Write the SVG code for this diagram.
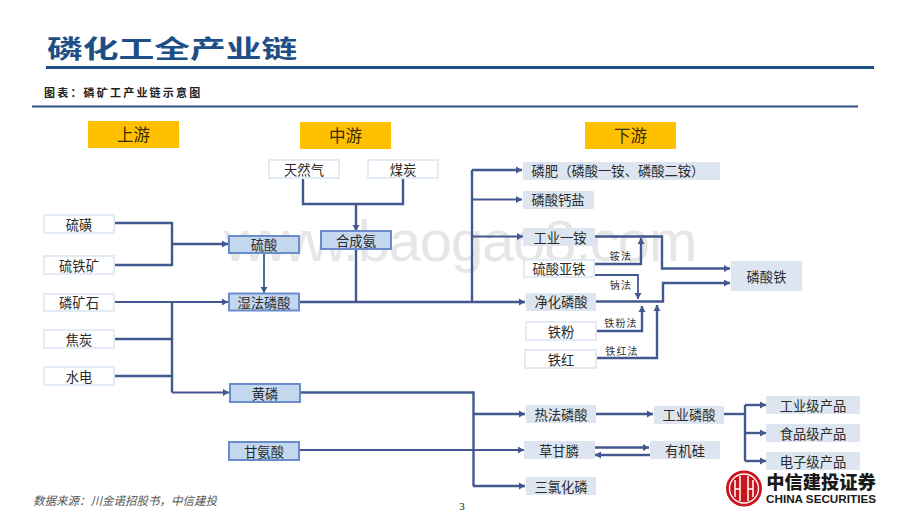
<svg xmlns="http://www.w3.org/2000/svg" width="920" height="518" viewBox="0 0 920 518">
<style>
text{font-family:"Noto Sans CJK SC","Liberation Sans",sans-serif;text-anchor:middle}
.t{font-size:13.3px;fill:#2b2b2b}
.h{font-size:16.5px;fill:#3a2c00}
.w rect{fill:#fff;stroke:#e3ebf5;stroke-width:2}
.b rect{fill:#c3d7ef;stroke:#6a8ccb;stroke-width:2}
.g rect{fill:#dde6f0}
.y rect{fill:#ffc000}
.m{font-size:10px;fill:#333;letter-spacing:1.200px}
#connectors path{fill:none;stroke:#41598f;stroke-width:2.400}
#connectors path.a{marker-end:url(#arr)}
#connectors path.n{stroke-width:1.800}
</style>
<defs>
<marker id="arr" markerUnits="userSpaceOnUse" markerWidth="8" markerHeight="8" refX="6" refY="4" orient="auto"><path d="M0 0.500L6 4L0 7.500Z" fill="#41598f"/></marker>
</defs>
<rect width="920" height="518" fill="#fff"/>
<text id="watermark" x="460" y="261" style="font-family:'Liberation Sans',sans-serif;font-size:58px;fill:#e6e6e6;letter-spacing:-1.200px">www.baogao8.com</text>
<g id="header">
<text transform="translate(47 58) scale(1.46 1)" style="text-anchor:start;font-size:24.500px;font-weight:700;fill:#1d4f86">磷化工全产业链</text>
<rect x="46" y="66" width="828" height="3" fill="#1f4e85"/>
<text x="44" y="97" style="text-anchor:start;font-size:11px;font-weight:700;fill:#222;letter-spacing:2.200px">图表：磷矿工产业链示意图</text>
<rect x="32" y="105.500" width="826" height="2" fill="#2c4d80"/>
</g>
<g id="connectors">
<path d="M114 223H172V265H114"/>
<path class="a" d="M172 244H228"/>
<path class="a n" d="M114 302H228"/>
<path d="M172 302V392.500"/>
<path d="M114 339H172M114 376H172"/>
<path class="a n" d="M172 392.500H229"/>
<path class="a n" d="M264 253V293"/>
<path d="M303 179V204H403V179"/>
<path class="a" d="M356 204V231"/>
<path d="M356 249V302"/>
<path class="a" d="M299 302H525"/>
<path d="M472 302V170"/>
<path class="a" d="M472 170H522"/>
<path class="a n" d="M472 199.500H522"/>
<path class="a n" d="M472 236.500H523"/>
<path d="M300 392.500H473.500V486"/>
<path class="a" d="M473 414H525"/>
<path class="a n" d="M299 450H524"/>
<path class="a" d="M473 486H525"/>
<path class="a" d="M596 414H653"/>
<path d="M724 414H745"/>
<path d="M745 405V461"/>
<path class="a" d="M745 405H766"/>
<path class="a" d="M745 433H766"/>
<path class="a" d="M745 461H766"/>
<path class="a" d="M595 447.500H649"/>
<path class="a" d="M650 455H595"/>
<path class="a" d="M595 236.500H662V268.500H730"/>
<path class="a" d="M595 264H641V238"/>
<path class="a n" d="M595 275H638V299"/>
<path class="a" d="M596 301.500H663V283H730"/>
<path class="a" d="M596 331H642V306"/>
<path class="a" d="M596 358H657V305"/>
</g>
<g id="n-up" class="y"><rect x="88" y="121" width="91" height="27"/><text class="h" x="133.500" y="141">上游</text></g>
<g id="n-mid" class="y"><rect x="300" y="122" width="91" height="27"/><text class="h" x="345.500" y="142">中游</text></g>
<g id="n-down" class="y"><rect x="585" y="122" width="91" height="27"/><text class="h" x="630.500" y="142">下游</text></g>
<g id="n-tianranqi" class="w"><rect x="269" y="160" width="70" height="18"/><text class="t" x="304" y="175">天然气</text></g>
<g id="n-meitan" class="w"><rect x="368" y="160" width="70" height="18"/><text class="t" x="403" y="175">煤炭</text></g>
<g id="n-liuhuang" class="w"><rect x="44" y="215" width="70" height="18"/><text class="t" x="79" y="230">硫磺</text></g>
<g id="n-liutiekuang" class="w"><rect x="44" y="256" width="70" height="18"/><text class="t" x="79" y="271">硫铁矿</text></g>
<g id="n-linkuangshi" class="w"><rect x="44" y="294" width="70" height="17"/><text class="t" x="79" y="308">磷矿石</text></g>
<g id="n-jiaotan" class="w"><rect x="44" y="330" width="70" height="18"/><text class="t" x="79" y="345">焦炭</text></g>
<g id="n-shuidian" class="w"><rect x="44" y="367" width="70" height="18"/><text class="t" x="79" y="382">水电</text></g>
<g id="n-liusuan" class="b"><rect x="229" y="236" width="70" height="17"/><text class="t" x="264" y="250">硫酸</text></g>
<g id="n-hechengan" class="b"><rect x="321" y="231" width="70" height="18"/><text class="t" x="356" y="246">合成氨</text></g>
<g id="n-shifa" class="b"><rect x="229" y="293.500" width="70" height="17"/><text class="t" x="264" y="308">湿法磷酸</text></g>
<g id="n-huanglin" class="b"><rect x="230" y="384" width="70" height="18"/><text class="t" x="265" y="399">黄磷</text></g>
<g id="n-ganansuan" class="b"><rect x="229" y="442" width="70" height="18"/><text class="t" x="264" y="457">甘氨酸</text></g>
<g id="n-linfei" class="g"><rect x="523" y="162" width="197" height="18"/><text class="t" x="618" y="176">磷肥（磷酸一铵、磷酸二铵）</text></g>
<g id="n-linsuangai" class="g"><rect x="523" y="191" width="71" height="18"/><text class="t" x="558" y="205">磷酸钙盐</text></g>
<g id="n-gongyeyian" class="g"><rect x="523" y="228" width="72" height="18"/><text class="t" x="560" y="243">工业一铵</text></g>
<g id="n-liusuanyatie" class="w"><rect x="524" y="260" width="70" height="17"/><text class="t" x="559" y="274">硫酸亚铁</text></g>
<g id="n-jinghua" class="g"><rect x="526" y="293" width="70" height="18"/><text class="t" x="561" y="307">净化磷酸</text></g>
<g id="n-tiefen" class="w"><rect x="526" y="322" width="70" height="18"/><text class="t" x="561" y="337">铁粉</text></g>
<g id="n-tiehong" class="w"><rect x="525" y="350" width="71" height="18"/><text class="t" x="561" y="365">铁红</text></g>
<g id="n-linsuantie" class="g"><rect x="731" y="261" width="71" height="30"/><text class="t" x="766.500" y="282">磷酸铁</text></g>
<g id="n-refa" class="g"><rect x="526" y="405" width="70" height="18"/><text class="t" x="561" y="420">热法磷酸</text></g>
<g id="n-gongyelinsuan" class="g"><rect x="654" y="406" width="70" height="18"/><text class="t" x="689" y="420">工业磷酸</text></g>
<g id="n-gongyeji" class="g"><rect x="766" y="396" width="94" height="18"/><text class="t" x="813" y="411">工业级产品</text></g>
<g id="n-shipinji" class="g"><rect x="766" y="424" width="94" height="18"/><text class="t" x="813" y="439">食品级产品</text></g>
<g id="n-dianziji" class="g"><rect x="766" y="452" width="94" height="18"/><text class="t" x="813" y="467">电子级产品</text></g>
<g id="n-caoganlin" class="g"><rect x="524" y="441" width="71" height="18"/><text class="t" x="559" y="456">草甘膦</text></g>
<g id="n-youjigui" class="g"><rect x="650" y="441" width="70" height="18"/><text class="t" x="685" y="456">有机硅</text></g>
<g id="n-sanlvhualin" class="g"><rect x="526" y="477" width="70" height="18"/><text class="t" x="561" y="492">三氯化磷</text></g>
<g id="method-labels">
<text class="m" x="621" y="260">铵法</text>
<text class="m" x="621" y="289">钠法</text>
<text class="m" x="621" y="327">铁粉法</text>
<text class="m" x="622" y="355">铁红法</text>
</g>
<g id="footer">
<text x="33" y="505" style="text-anchor:start;font-size:11.500px;font-style:italic;fill:#555">数据来源：川金诺招股书，中信建投</text>
<text x="462" y="510" style="font-family:'Liberation Serif',serif;font-size:11px;fill:#222">3</text>
</g>
<g id="logo">
<circle cx="744" cy="488.500" r="18" fill="#c8161d"/>
<circle cx="744" cy="488.500" r="14.500" fill="none" stroke="#fff" stroke-width="1.300"/>
<path d="M735 497V480M740 501V476M748 501V476M753 497V480M735 489H740M748 489H753" fill="none" stroke="#fff" stroke-width="1.500"/>
<text x="821" y="489" style="font-family:'Noto Sans CJK SC',sans-serif;font-size:18.300px;font-weight:900;fill:#1a1a1a">中信建投证券</text>
<text x="821" y="503" textLength="110" lengthAdjust="spacingAndGlyphs" style="font-family:'Liberation Sans',sans-serif;font-size:11px;font-weight:700;fill:#1a1a1a">CHINA SECURITIES</text>
</g>
</svg>
